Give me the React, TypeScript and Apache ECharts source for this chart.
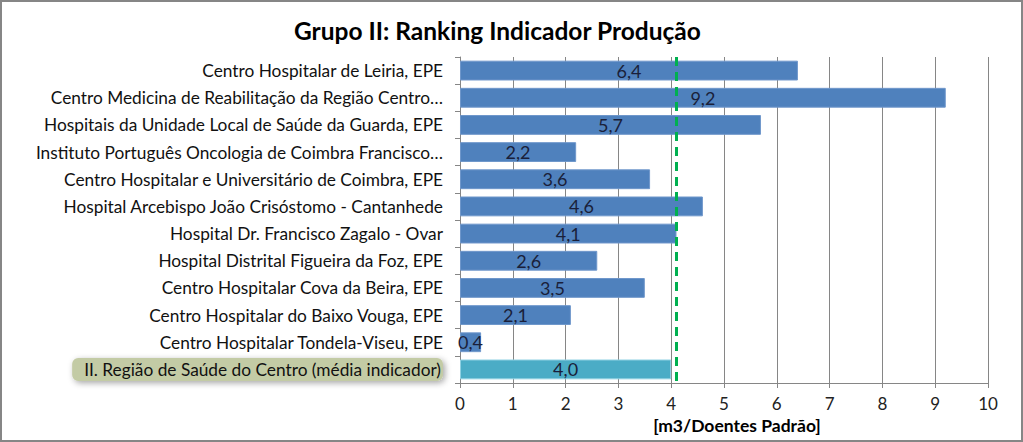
import React, { useEffect, useRef } from "react";
import * as echarts from "echarts";

const title = "Grupo II: Ranking Indicador Produção";
const categories = [
  "Centro Hospitalar de Leiria, EPE",
  "Centro Medicina de Reabilitação da Região Centro…",
  "Hospitais da Unidade Local de Saúde da Guarda, EPE",
  "Instituto Português Oncologia de Coimbra Francisco…",
  "Centro Hospitalar e Universitário de Coimbra, EPE",
  "Hospital Arcebispo João Crisóstomo - Cantanhede",
  "Hospital Dr. Francisco Zagalo - Ovar",
  "Hospital Distrital Figueira da Foz, EPE",
  "Centro Hospitalar Cova da Beira, EPE",
  "Centro Hospitalar do Baixo Vouga, EPE",
  "Centro Hospitalar Tondela-Viseu, EPE",
  "II. Região de Saúde do Centro (média indicador)",
];
const values = [6.4, 9.2, 5.7, 2.2, 3.6, 4.6, 4.1, 2.6, 3.5, 2.1, 0.4, 4.0];
const referenceLine = 4.09;
const xTicks = [0, 10, 1];
const axisName = "[m3/Doentes Padrão]";

export default function App() {
  const ref = useRef<HTMLDivElement>(null);
  useEffect(() => {
    const chart = echarts.init(ref.current!, null, { renderer: "svg" });
    const last = categories.length - 1;
    chart.setOption({
      animation: false,
      backgroundColor: "#ffffff",
      title: {
        text: title,
        left: 289,
        top: 13,
        textStyle: { fontFamily: "Lato", fontWeight: "bold", fontSize: 24.5, color: "#000" },
      },
      grid: { left: 460, right: 35, top: 57, bottom: 59, containLabel: false },
      xAxis: {
        type: "value",
        min: xTicks[0],
        max: xTicks[1],
        interval: xTicks[2],
        name: axisName,
        nameLocation: "middle",
        nameGap: 33,
        nameTextStyle: { fontFamily: "Lato", fontWeight: "bold", fontSize: 17.5, color: "#000", padding: [0, 0, 0, 26] },
        axisLine: { show: true, lineStyle: { color: "#868686", width: 1 } },
        axisTick: { show: true, length: 5, lineStyle: { color: "#868686" } },
        axisLabel: { fontFamily: "Lato", fontSize: 17, color: "#222", margin: 12 },
        splitLine: { show: true, lineStyle: { color: "#868686", width: 1 } },
      },
      yAxis: {
        type: "category",
        inverse: true,
        data: categories,
        axisLine: { show: true, lineStyle: { color: "#868686", width: 1 } },
        axisTick: { show: true, length: 5, lineStyle: { color: "#868686" } },
        axisLabel: {
          fontFamily: "Lato",
          fontSize: 17.3,
          color: "#111",
          margin: 17,
          formatter: (v: string, i: number) => (i === last ? `{hl|${v}}` : v),
          rich: {
            hl: {
              fontFamily: "Lato",
              fontSize: 17.3,
              color: "#111",
              backgroundColor: "#C3CBA5",
              borderRadius: 6,
              padding: [3, 2, 3, 12],
              shadowBlur: 6,
              shadowColor: "rgba(0,0,0,0.35)",
              shadowOffsetX: 2,
              shadowOffsetY: 2,
            },
          },
        },
      },
      series: [
        {
          type: "bar",
          barCategoryGap: "27%",
          data: values.map((v, i) => ({
            value: v,
            itemStyle: {
              color: i === last ? "#4BACC6" : "#4F81BD",
              borderColor: i === last ? "#8FD0E2" : "#6F97CB",
              borderWidth: 1,
            },
          })),
          label: {
            show: true,
            position: "inside",
            fontFamily: "Lato",
            fontSize: 18,
            color: "#1A1F3A",
            formatter: (p: any) => p.value.toFixed(1).replace(".", ","),
          },
          markLine: {
            silent: true,
            symbol: "none",
            label: { show: false },
            lineStyle: { color: "#00B050", type: [9, 6], width: 3 },
            data: [{ xAxis: referenceLine }],
          },
        },
      ],
      graphic: [
        {
          type: "rect",
          shape: { x: 1, y: 1, width: 1021, height: 440 },
          style: { fill: "none", stroke: "#868686", lineWidth: 2 },
          silent: true,
        },
      ],
    });
    return () => chart.dispose();
  }, []);
  return (
    <div
      ref={ref}
      style={{ position: "fixed", left: 0, top: 0, width: 1023, height: 442 }}
    />
  );
}
